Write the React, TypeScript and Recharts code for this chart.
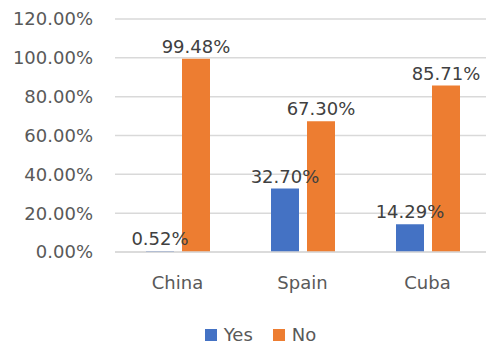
import { BarChart, Bar, XAxis, YAxis, CartesianGrid, Legend, LabelList } from "recharts";

const countries = ["China", "Spain", "Cuba"];
const seriesNames = ["Yes", "No"];
const yesValues = [0.52, 32.7, 14.29];
const noValues = [99.48, 67.3, 85.71];
const yTicks = [0, 20, 40, 60, 80, 100, 120];

const data = countries.map((c, i) => ({ country: c, Yes: yesValues[i], No: noValues[i] }));

const FONT = "'DejaVu Sans', sans-serif";
const pct = (v: number) => `${Number(v).toFixed(2)}%`;

function LegendBox({ payload }: any) {
  const items = [...(payload || [])].sort(
    (a: any, b: any) => seriesNames.indexOf(a.value) - seriesNames.indexOf(b.value)
  );
  return (
    <div
      style={{
        display: "flex",
        justifyContent: "center",
        paddingLeft: 35,
        height: 20,
        lineHeight: "20px",
        fontFamily: FONT,
        fontSize: 18,
        color: "#595959",
        gap: 20,
      }}
    >
      {items.map((p: any) => (
        <div key={p.value} style={{ display: "flex", alignItems: "center" }}>
          <span style={{ width: 12, height: 12, background: p.color, display: "inline-block", marginRight: 7 }} />
          <span>{p.value}</span>
        </div>
      ))}
    </div>
  );
}

export default function App() {
  return (
    <div style={{ position: "fixed", left: 0, top: 0, width: 486, height: 344, overflow: "hidden", background: "#fff" }}>
      <BarChart
        width={492}
        height={344}
        data={data}
        margin={{ top: 19, right: 2, bottom: 0, left: 0 }}
        barGap={8}
        barCategoryGap={31}
      >
        <CartesianGrid vertical={false} stroke="#d9d9d9" strokeWidth={1.5} />
        <XAxis
          dataKey="country"
          axisLine={{ stroke: "#d9d9d9", strokeWidth: 1.5 }}
          tickLine={false}
          tickSize={0}
          tickMargin={24}
          height={62}
          tick={{ fill: "#595959", fontSize: 18, fontFamily: FONT }}
        />
        <YAxis
          domain={[0, 120]}
          ticks={yTicks}
          axisLine={false}
          tickLine={false}
          tickSize={0}
          tickMargin={22}
          width={115}
          tickFormatter={pct}
          tick={{ fill: "#595959", fontSize: 18, fontFamily: FONT }}
        />
        <Legend
          verticalAlign="bottom"
          height={30}
          wrapperStyle={{ top: 325, left: 0, width: 486 }}
          content={<LegendBox />}
        />
        <Bar dataKey="Yes" fill="#4472c4" isAnimationActive={false}>
          <LabelList dataKey="Yes" position="top" offset={6} formatter={pct} fill="#404040" fontSize={18} fontFamily={FONT} />
        </Bar>
        <Bar dataKey="No" fill="#ed7d31" isAnimationActive={false}>
          <LabelList dataKey="No" position="top" offset={6} formatter={pct} fill="#404040" fontSize={18} fontFamily={FONT} />
        </Bar>
      </BarChart>
    </div>
  );
}
